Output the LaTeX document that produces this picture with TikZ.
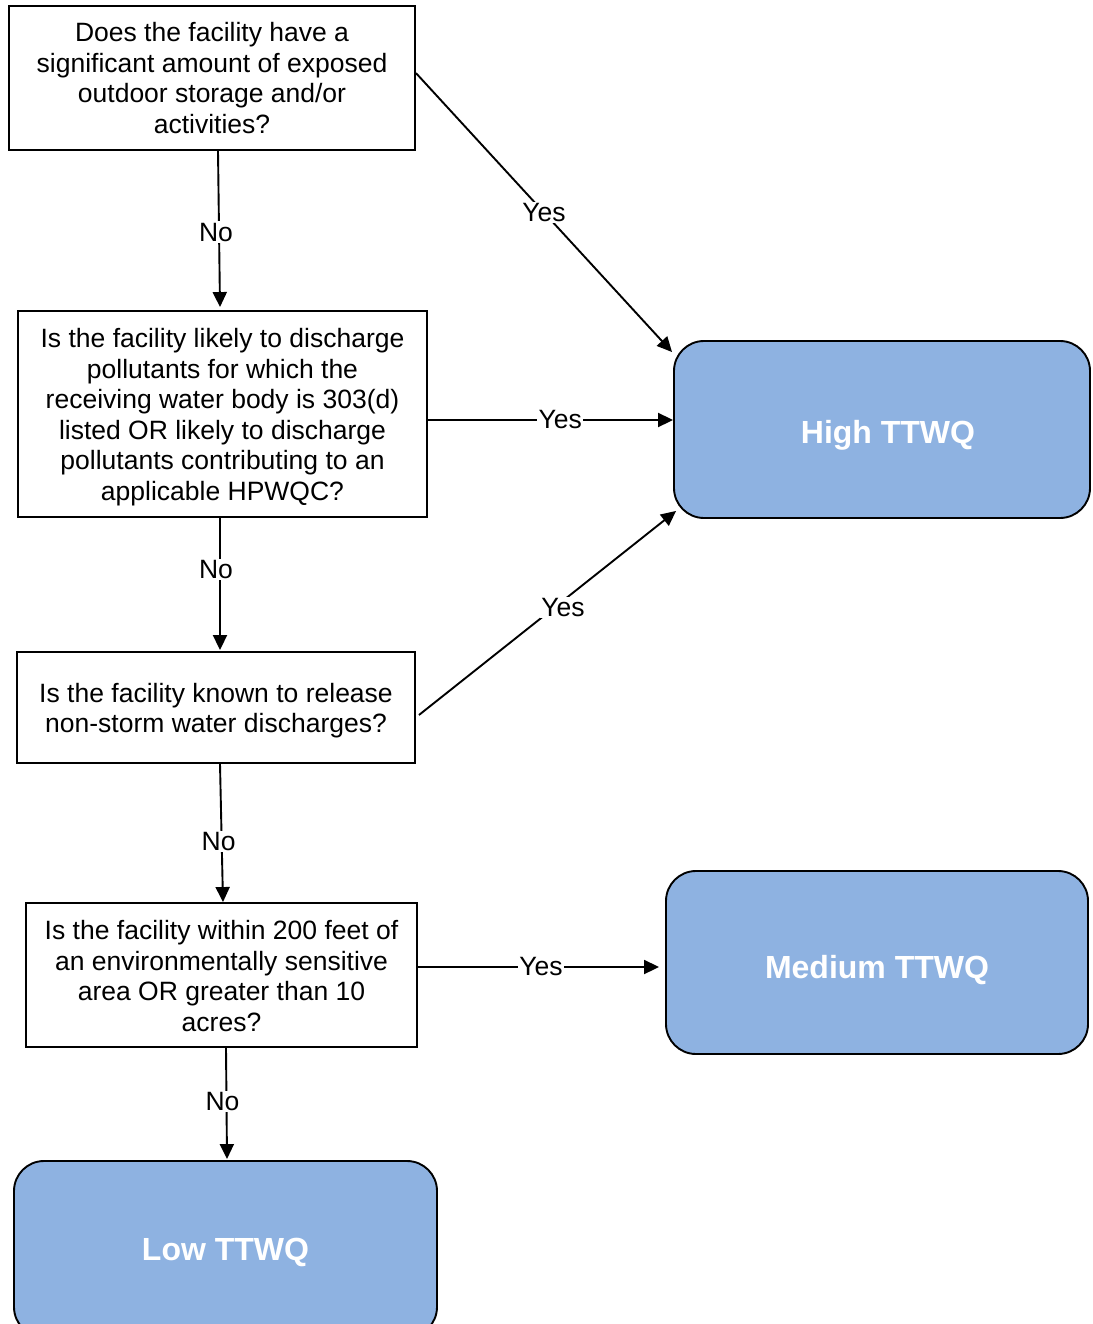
\documentclass[tikz,border=0pt]{standalone}
\usepackage{fontspec}
\setmainfont{Liberation Sans}
\usetikzlibrary{arrows.meta,calc}
\definecolor{outcomeblue}{RGB}{142,178,225}
\begin{document}
\begin{tikzpicture}[x=1pt,y=-1pt,
  every node/.style={font=\fontsize{26.5}{30.5}\selectfont},
  question/.style={draw=black,line width=1.9pt,fill=white,inner sep=0pt},
  qtext/.style={align=center,inner sep=0pt},
  outcome/.style={draw=black,line width=1.9pt,fill=outcomeblue,rounded corners=30pt,inner sep=0pt},
  otext/.style={text=white,font=\fontsize{32}{36}\selectfont\bfseries,inner sep=0pt},
  flow/.style={line width=1.9pt,-{Triangle[length=15pt,width=14pt]}},
  tag/.style={fill=white,inner sep=1.5pt}]
\useasboundingbox (0,0) rectangle (1092,1324);

% decision boxes and their questions
\node[question,minimum width=406pt,minimum height=144pt] (q1) at (212,78) {};
\node[qtext] (q1text) at (212,78)
  {Does the facility have a\\significant amount of exposed\\outdoor storage and/or\\activities?};
\node[question,minimum width=409pt,minimum height=206pt] (q2) at (222.5,414) {};
\node[qtext] (q2text) at (222.5,417)
  {Is the facility likely to discharge\\pollutants for which the\\receiving water body is 303(d)\\listed OR likely to discharge\\pollutants contributing to an\\applicable HPWQC?};
\node[question,minimum width=398pt,minimum height=111pt] (q3) at (216,707.5) {};
\node[qtext] (q3text) at (216,710.5)
  {Is the facility known to release\\non-storm water discharges?};
\node[question,minimum width=391pt,minimum height=144pt] (q4) at (221.5,975) {};
\node[qtext] (q4text) at (221.5,976)
  {Is the facility within 200 feet of\\an environmentally sensitive\\area OR greater than 10\\acres?};

% outcome boxes
\node[outcome,minimum width=416pt,minimum height=177pt] (high) at (882,429.5) {};
\node[otext] (hightext) at (888,435.5) {High TTWQ};
\node[outcome,minimum width=422pt,minimum height=183pt] (med) at (877,962.5) {};
\node[otext] (medtext) at (877,970.5) {Medium TTWQ};
\node[outcome,minimum width=423pt,minimum height=176pt] (low) at (225.5,1249) {};
\node[otext] (lowtext) at (225.5,1252) {Low TTWQ};

% connectors
\draw[flow] ($(q1.south)+(6,0)$) -- node[tag,pos=0.52,xshift=-3pt]{No} ($(q2.north)+(-2.5,-3)$);
\draw[flow] ($(q1.north east)+(0,68)$) -- node[tag,pos=0.5]{Yes} ($(high.north west)+(-1,12)$);
\draw[flow] ($(q2.east)+(0,6)$) -- node[tag,pos=0.54]{Yes} ($(high.west)+(0,-9.5)$);
\draw[flow] ($(q2.south)+(-2.5,0)$) -- node[tag,pos=0.39,xshift=-4pt]{No} ($(q3.north)+(4,-1)$);
\draw[flow] ($(q3.east)+(3,7.5)$) -- node[tag,pos=0.56,yshift=-7pt]{Yes} ($(high.south west)+(3,-8)$);
\draw[flow] ($(q3.south)+(4,0)$) -- node[tag,pos=0.56,xshift=-3pt]{No} ($(q4.north)+(1.5,0)$);
\draw[flow] ($(q4.east)+(0,-8)$) -- node[tag,pos=0.51]{Yes} ($(med.west)+(-6,4.5)$);
\draw[flow] ($(q4.south)+(4.5,0)$) -- node[tag,pos=0.48,xshift=-4pt]{No} ($(low.north)+(1.5,-1)$);
\end{tikzpicture}
\end{document}
